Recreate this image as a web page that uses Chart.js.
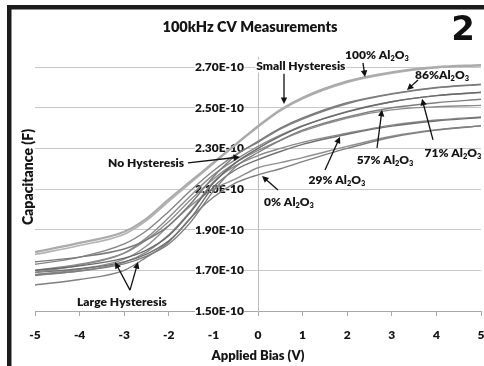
<!DOCTYPE html>
<html><head><meta charset="utf-8">
<script src="https://cdn.jsdelivr.net/npm/chart.js@4"></script>
<style>html,body{margin:0;padding:0;background:#fff;overflow:hidden}
#wrap{position:absolute;left:0;top:0;width:484px;height:366px}</style>
</head><body><div id="wrap"><canvas id="c" width="484" height="366"></canvas></div>
<script>
// Applied bias (V)
const biasV = [-5, -4, -3, -2.5, -2, -1.5, -1, -0.5, 0, 0.5, 1, 2, 3, 4, 5];
// Capacitance, in units of 1E-10 F (two sweeps per composition)
const cap100a = [1.790,1.835,1.890,1.955,2.050,2.140,2.230,2.320,2.410,2.490,2.550,2.630,2.675,2.700,2.710];
const cap100b = [1.778,1.822,1.878,1.945,2.040,2.133,2.225,2.318,2.405,2.485,2.545,2.625,2.670,2.697,2.707];
const cap86a  = [1.742,1.765,1.805,1.850,1.920,2.030,2.160,2.265,2.335,2.400,2.450,2.525,2.570,2.600,2.616];
const cap86b  = [1.730,1.765,1.830,1.895,1.990,2.095,2.190,2.270,2.330,2.395,2.445,2.520,2.567,2.598,2.614];
const cap71a  = [1.700,1.722,1.760,1.800,1.870,1.990,2.130,2.230,2.300,2.360,2.410,2.480,2.530,2.560,2.577];
const cap71b  = [1.690,1.725,1.785,1.860,1.960,2.070,2.170,2.245,2.310,2.365,2.412,2.482,2.530,2.560,2.575];
const cap57a  = [1.677,1.697,1.732,1.770,1.830,1.940,2.090,2.210,2.280,2.340,2.390,2.455,2.500,2.525,2.542];
const cap57b  = [1.700,1.730,1.785,1.850,1.940,2.050,2.150,2.230,2.290,2.340,2.385,2.450,2.490,2.505,2.512];
const cap29a  = [1.690,1.708,1.742,1.780,1.845,1.960,2.110,2.195,2.245,2.285,2.320,2.370,2.410,2.435,2.452];
const cap29b  = [1.675,1.698,1.740,1.790,1.875,1.995,2.135,2.215,2.265,2.300,2.330,2.375,2.415,2.440,2.455];
const cap0a   = [1.628,1.655,1.700,1.765,1.840,1.960,2.060,2.130,2.170,2.200,2.235,2.300,2.355,2.390,2.411];
const cap0b   = [1.680,1.705,1.755,1.820,1.920,2.020,2.100,2.150,2.205,2.230,2.255,2.310,2.360,2.392,2.412];

const xTickValues = [-5,-4,-3,-2,-1,0,1,2,3,4,5];
const yTickValues = [1.5,1.7,1.9,2.1,2.3,2.5,2.7];
const yTickLabels = ['1.50E-10','1.70E-10','1.90E-10','2.10E-10','2.30E-10','2.50E-10','2.70E-10'];

const chartTitle = '100kHz CV Measurements';
const panelNumber = '2';
const xTitle = 'Applied Bias (V)';
const yTitle = 'Capacitance (F)';

// annotation labels (position in data units) and their arrows
const annotations = [
  {text:'Small Hysteresis', at:[0.96,2.706], bg:true, arrows:[[[0.583,2.667],[0.583,2.519]]]},
  {text:'100% Al₂O₃', at:[2.668,2.761], arrows:[[[2.354,2.721],[2.399,2.652]]]},
  {text:'86%Al₂O₃', at:[4.126,2.662], arrows:[[[3.587,2.637],[3.341,2.588]]]},
  {text:'71% Al₂O₃', at:[4.372,2.278], arrows:[[[3.924,2.342],[3.677,2.544]]]},
  {text:'57% Al₂O₃', at:[2.848,2.243], arrows:[[[2.668,2.302],[2.780,2.490]]]},
  {text:'29% Al₂O₃', at:[1.771,2.145], arrows:[[[1.502,2.194],[1.839,2.357]]]},
  {text:'0% Al₂O₃', at:[0.695,2.036], arrows:[[[0.448,2.095],[0.090,2.164]]]},
  {text:'No Hysteresis', at:[-2.511,2.229], arrows:[[[-1.570,2.229],[-0.404,2.258]]]},
  {text:'Large Hysteresis', at:[-3.049,1.544], arrows:[[[-2.870,1.603],[-3.206,1.741]],[[-2.870,1.603],[-2.690,1.741]]]}
];

const FONT = 'Lato';
const WT = '800';
const TXT = '#151515';

const series = [
  {d:cap100a,c:'#ababab',w:2.2},{d:cap100b,c:'#b3b3b3',w:1.6},
  {d:cap86a,c:'#7a7a7a',w:1.4},{d:cap86b,c:'#858585',w:1.4},
  {d:cap71a,c:'#6a6a6a',w:1.4},{d:cap71b,c:'#8a8a8a',w:1.4},
  {d:cap57a,c:'#7e7e7e',w:1.4},{d:cap57b,c:'#8c8c8c',w:1.4},
  {d:cap29a,c:'#727272',w:1.4},{d:cap29b,c:'#8a8a8a',w:1.4},
  {d:cap0a,c:'#7f7f7f',w:1.4},{d:cap0b,c:'#8f8f8f',w:1.4}
];

const SUB = {'₂':'2','₃':'3'};
function drawRich(ctx, text, cx, cy, size, bg){
  const parts = [...text].map(ch => SUB[ch] ? {t:SUB[ch], sub:true} : {t:ch, sub:false});
  let w = 0;
  parts.forEach(p => { ctx.font = WT + ' ' + (p.sub ? size*0.62 : size) + 'px ' + FONT; p.w = ctx.measureText(p.t).width; w += p.w; });
  let x = cx - w/2;
  if (bg) { ctx.fillStyle = '#fff'; ctx.fillRect(x-1, cy-size*0.55, w+2, size*1.1); }
  ctx.fillStyle = TXT; ctx.textAlign = 'left'; ctx.textBaseline = 'middle';
  parts.forEach(p => { ctx.font = WT + ' ' + (p.sub ? size*0.62 : size) + 'px ' + FONT; ctx.fillText(p.t, x, cy + (p.sub ? size*0.3 : 0)); x += p.w; });
}
function arrow(ctx, x0, y0, x1, y1){
  const a = Math.atan2(y1-y0, x1-x0), L = 6.5, W = 3.2;
  ctx.beginPath(); ctx.moveTo(x0,y0); ctx.lineTo(x1 - Math.cos(a)*L*0.7, y1 - Math.sin(a)*L*0.7); ctx.stroke();
  ctx.beginPath(); ctx.moveTo(x1,y1);
  ctx.lineTo(x1 - L*Math.cos(a) + W*Math.sin(a), y1 - L*Math.sin(a) - W*Math.cos(a));
  ctx.lineTo(x1 - L*Math.cos(a) - W*Math.sin(a), y1 - L*Math.sin(a) + W*Math.cos(a));
  ctx.closePath(); ctx.fill();
}

const decor = {
  id:'decor',
  beforeDraw(chart){
    const ctx = chart.ctx;
    ctx.save(); ctx.fillStyle = '#fff'; ctx.fillRect(0,0,chart.width,chart.height); ctx.restore();
  },
  afterDatasetsDraw(chart){
    const ctx = chart.ctx, xs = chart.scales.x, ys = chart.scales.y;
    ctx.save();
    ctx.strokeStyle = '#111'; ctx.fillStyle = '#111'; ctx.lineWidth = 1.3;
    annotations.forEach(a => a.arrows.forEach(ar => {
      arrow(ctx, xs.getPixelForValue(ar[0][0]), ys.getPixelForValue(ar[0][1]), xs.getPixelForValue(ar[1][0]), ys.getPixelForValue(ar[1][1]));
    }));
    annotations.forEach(a => drawRich(ctx, a.text, xs.getPixelForValue(a.at[0]), ys.getPixelForValue(a.at[1]), 12, a.bg));
    // title
    ctx.fillStyle = TXT; ctx.textAlign = 'center'; ctx.textBaseline = 'middle';
    ctx.font = WT + ' 14.5px ' + FONT; ctx.fillText(chartTitle, 250, 27);
    ctx.font = 'bold 34px "DejaVu Sans"'; ctx.fillStyle = '#111'; ctx.fillText(panelNumber, 463, 31);
    // y title
    ctx.save(); ctx.translate(28, 177); ctx.rotate(-Math.PI/2);
    ctx.fillStyle = TXT; ctx.font = WT + ' 14px ' + FONT; ctx.fillText(yTitle, 0, 0); ctx.restore();
    // frame
    ctx.fillStyle = '#1c1c1c'; ctx.fillRect(7,5,477,4.5); ctx.fillRect(7,5,4.5,361);
    ctx.restore();
  }
};

new Chart(document.getElementById('c'), {
  type:'line',
  data:{ labels: biasV, datasets: series.map(s => ({
    data: biasV.map((x,i) => ({x, y:s.d[i]})), borderColor:s.c, borderWidth:s.w,
    pointRadius:0, fill:false, cubicInterpolationMode:'monotone' })) },
  options:{
    responsive:false, animation:false, devicePixelRatio:1,
    layout:{padding:{left:35,right:3,top:57,bottom:0}},
    plugins:{legend:{display:false}, tooltip:{enabled:false}, title:{display:false}},
    scales:{
      x:{type:'linear', min:-5, max:5, position:'bottom',
        afterBuildTicks:s => { s.ticks = xTickValues.map(v => ({value:v})); },
        afterFit:s => { s.height = 55; s.paddingLeft = 0; s.paddingRight = 0; },
        grid:{drawOnChartArea:false, drawTicks:true, tickLength:5, color:'#a8a8a8'},
        border:{display:true, color:'#a8a8a8'},
        ticks:{padding:12, color:TXT, font:{family:FONT, weight:WT, size:12}, maxRotation:0, callback:v => String(v)},
        title:{display:true, text:xTitle, color:TXT, font:{family:FONT, weight:WT, size:13}, padding:{top:0,bottom:2}}
      },
      y:{type:'linear', min:1.5, max:2.75, position:'center',
        afterBuildTicks:s => { s.ticks = yTickValues.map(v => ({value:v})); },
        afterFit:s => { s.paddingTop = 0; s.paddingBottom = 0; },
        grid:{color:'#c8c8c8', drawTicks:false},
        border:{display:true, color:'#bdbdbd'},
        ticks:{padding:14, color:TXT, font:{family:FONT, weight:WT, size:12},
          showLabelBackdrop:true, backdropColor:'#fff', backdropPadding:0,
          callback:v => yTickLabels[yTickValues.indexOf(v)]}
      }
    }
  },
  plugins:[decor]
});
</script></body></html>
